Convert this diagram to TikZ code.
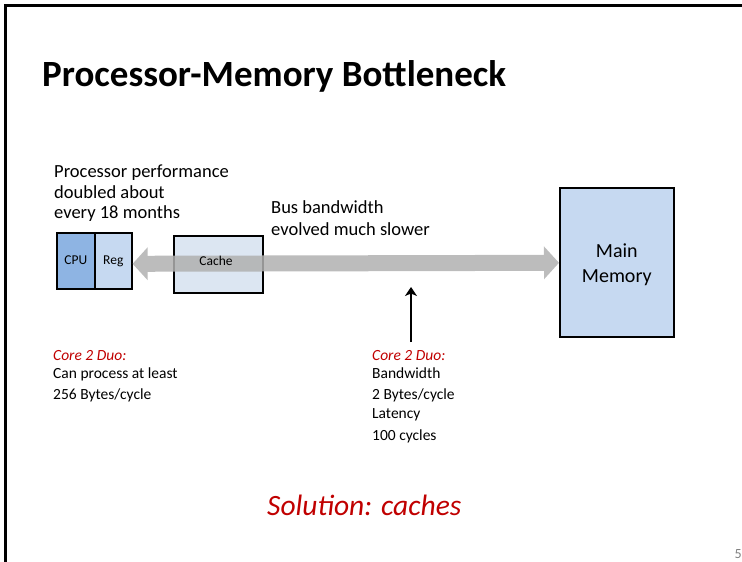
\documentclass[tikz,border=0pt]{standalone}
\usepackage{fontspec}
\setmainfont{Carlito}
\usetikzlibrary{arrows.meta}
\definecolor{cpublue}{HTML}{8EB4E3}
\definecolor{regblue}{HTML}{C6D9F1}
\definecolor{cacheblue}{HTML}{DCE6F2}
\definecolor{memblue}{HTML}{C6D9F1}
\definecolor{busgray}{HTML}{B0B0B0}
\definecolor{notered}{HTML}{C00000}
\tikzset{
  x=1pt, y=-1pt,
  unit/.style={draw=black, line width=1.6pt, inner sep=0pt, anchor=north west},
  txt/.style={anchor=base west, inner sep=0pt, font=\fontsize{18.5}{22}\selectfont},
  note/.style={anchor=base west, inner sep=0pt, font=\fontsize{15.5}{18}\selectfont},
  redlabel/.style={note, text=notered, font=\fontsize{15.5}{18}\selectfont\itshape},
  small/.style={anchor=base, inner sep=0pt, font=\fontsize{13.5}{15}\selectfont},
}
\begin{document}
\begin{tikzpicture}
\useasboundingbox (0,0) rectangle (742,562);
% slide frame
\draw[line width=2.4pt] (5.5,562) -- (5.5,5.5) -- (742,5.5);

% title
\node[anchor=base west, inner sep=0pt, font=\fontsize{37}{42}\selectfont\bfseries] (title) at (42,86) {Processor-Memory Bottleneck};

% processor
\node[unit, fill=cpublue, minimum width=38pt, minimum height=56pt] (cpu) at (56,232) {};
\node[unit, fill=regblue, minimum width=37pt, minimum height=56pt] (reg) at (94,232) {};
\node[small] (cpul) at (cpu.center |- 0,264) {CPU};
\node[small] (regl) at (reg.center |- 0,264) {Reg};

% cache
\node[unit, fill=cacheblue, minimum width=89pt, minimum height=57pt] (cache) at (173,235) {};

% main memory
\node[unit, fill=memblue, minimum width=114pt, minimum height=149pt] (mem) at (559,187) {};
\node[align=center, font=\fontsize{20}{25}\selectfont] (meml) at ([yshift=-2pt]mem.center) {Main\\Memory};

% memory bus
\begin{scope}[transparency group, opacity=0.85]
\draw[busgray, line width=16pt,
      {Triangle[width=32pt,length=15pt]}-{Triangle[width=32pt,length=15pt]}]
  ([yshift=-3pt]reg.east) -- ([yshift=-2pt]mem.west |- reg.east);
\end{scope}
\node[small] (cachel) at (216,265) {Cache};

% captions
\node[txt] (p1) at (54,177) {Processor performance};
\node[txt] (p2) at (54,198) {doubled about};
\node[txt] (p3) at (54,218) {every 18 months};
\node[txt] (b1) at (271,213) {Bus bandwidth};
\node[txt] (b2) at (271,235) {evolved much slower};

% left note
\node[redlabel] (c1) at (53,360) {Core 2 Duo:};
\node[note] (c2) at (53,378) {Can process at least};
\node[note] (c3) at (53,399) {256 Bytes/cycle};

% right note
\node[redlabel] (d1) at (372,360) {Core 2 Duo:};
\node[note] (d2) at (372,378) {Bandwidth};
\node[note] (d3) at (372,399) {2 Bytes/cycle};
\node[note] (d4) at (372,418) {Latency};
\node[note] (d5) at (372,440) {100 cycles};

% pointer to the bus
\coordinate (ptr) at (411,342);
\coordinate (bus) at (411,287);
\draw[line width=2pt, -{Stealth[length=9pt,width=12pt,inset=2.5pt]}] (ptr) -- (bus);

% solution
\node[anchor=base west, inner sep=0pt, text=notered, font=\fontsize{29.5}{34}\selectfont\itshape] (sol) at (267,515) {Solution: caches};

% page number
\node[anchor=base east, inner sep=0pt, text=gray, font=\fontsize{14}{16}\selectfont] (page) at (742,558) {5};
\end{tikzpicture}
\end{document}
